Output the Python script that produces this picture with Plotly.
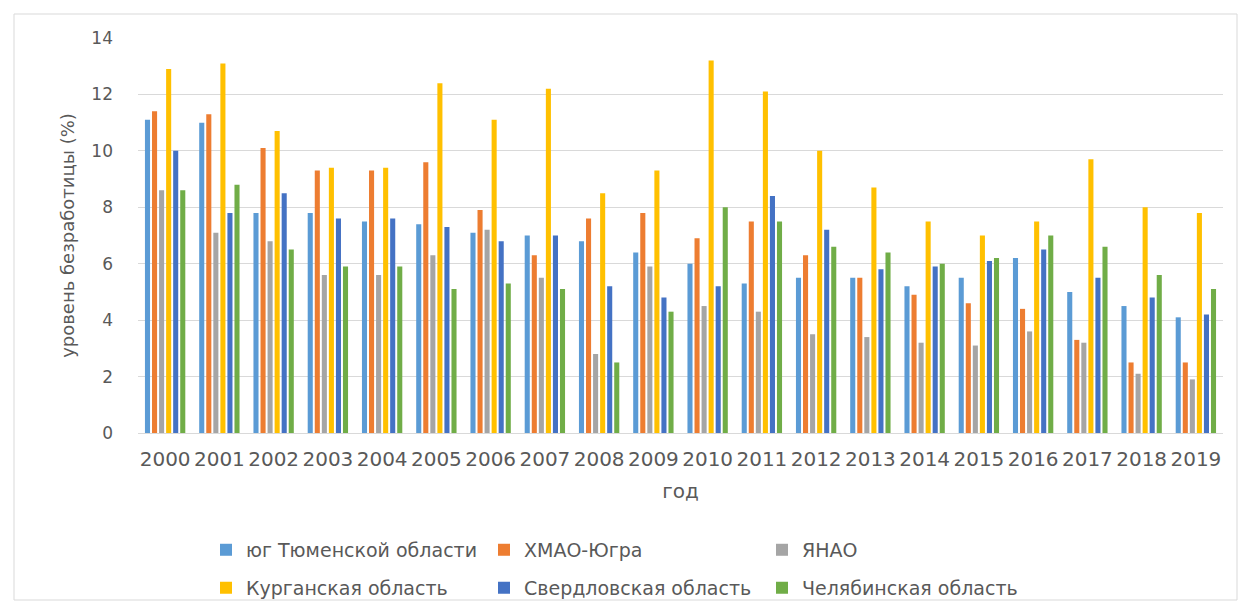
import plotly.graph_objects as go

years = [str(y) for y in range(2000, 2020)]
series_names = ["юг Тюменской области", "ХМАО-Югра", "ЯНАО",
                "Курганская область", "Свердловская область", "Челябинская область"]

yug_tyumen = [11.1, 11.0, 7.8, 7.8, 7.5, 7.4, 7.1, 7.0, 6.8, 6.4, 6.0, 5.3, 5.5, 5.5, 5.2, 5.5, 6.2, 5.0, 4.5, 4.1]
hmao = [11.4, 11.3, 10.1, 9.3, 9.3, 9.6, 7.9, 6.3, 7.6, 7.8, 6.9, 7.5, 6.3, 5.5, 4.9, 4.6, 4.4, 3.3, 2.5, 2.5]
yanao = [8.6, 7.1, 6.8, 5.6, 5.6, 6.3, 7.2, 5.5, 2.8, 5.9, 4.5, 4.3, 3.5, 3.4, 3.2, 3.1, 3.6, 3.2, 2.1, 1.9]
kurgan = [12.9, 13.1, 10.7, 9.4, 9.4, 12.4, 11.1, 12.2, 8.5, 9.3, 13.2, 12.1, 10.0, 8.7, 7.5, 7.0, 7.5, 9.7, 8.0, 7.8]
sverdl = [10.0, 7.8, 8.5, 7.6, 7.6, 7.3, 6.8, 7.0, 5.2, 4.8, 5.2, 8.4, 7.2, 5.8, 5.9, 6.1, 6.5, 5.5, 4.8, 4.2]
chelyab = [8.6, 8.8, 6.5, 5.9, 5.9, 5.1, 5.3, 5.1, 2.5, 4.3, 8.0, 7.5, 6.6, 6.4, 6.0, 6.2, 7.0, 6.6, 5.6, 5.1]

all_values = [yug_tyumen, hmao, yanao, kurgan, sverdl, chelyab]
colors = ["#5B9BD5", "#ED7D31", "#A5A5A5", "#FFC000", "#4472C4", "#70AD47"]
legends = ["legend", "legend", "legend", "legend2", "legend2", "legend2"]

W, H = 1244, 605
ml, mr, mt, mb = 138, 21, 38, 172

fig = go.Figure()
for name, vals, col, lg in zip(series_names, all_values, colors, legends):
    fig.add_trace(go.Bar(x=years, y=vals, name=name, marker_color=col,
                         marker_line_width=0, legend=lg))

font_family = "'DejaVu Sans', sans-serif"
leg_common = dict(orientation="h", xanchor="left", yanchor="middle",
                  font=dict(size=19, color="#595959", family=font_family),
                  entrywidth=233, entrywidthmode="pixels", itemwidth=30,
                  bgcolor="rgba(0,0,0,0)", traceorder="normal")

leg_x = (206 - ml) / (W - ml - mr)

fig.update_layout(
    width=W, height=H,
    margin=dict(l=ml, r=mr, t=mt, b=mb, autoexpand=False),
    paper_bgcolor="white", plot_bgcolor="white",
    barmode="group", bargap=0.22, bargroupgap=0.28,
    font=dict(family=font_family, color="#595959"),
    xaxis=dict(tickfont=dict(size=20, color="#595959"), automargin=False,
               title=dict(text="год", font=dict(size=20, color="#595959"), standoff=13),
               showgrid=False, showline=True, linecolor="#D9D9D9", linewidth=1,
               ticks="", ticklabelstandoff=8),
    yaxis=dict(range=[0, 14], dtick=2, tickfont=dict(size=17, color="#595959"),
               gridcolor="#D9D9D9", gridwidth=1, zeroline=False, showline=False,
               ticks="", ticklabelstandoff=24, automargin=False,
               title=dict(text="уровень безработицы (%)",
                          font=dict(size=18, color="#595959"), standoff=12)),
    legend=dict(x=leg_x, y=-0.296, **leg_common),
    legend2=dict(x=leg_x, y=-0.392, **leg_common),
    shapes=[dict(type="rect", xref="paper", yref="paper",
                 x0=(14 - ml) / (W - ml - mr), x1=(1237 - ml) / (W - ml - mr),
                 y0=(H - mb - 600) / (H - mt - mb), y1=(H - mb - 14) / (H - mt - mb),
                 line=dict(color="#D9D9D9", width=1), layer="below")],
)

fig.write_html("out.html", config={"displayModeBar": False},
               post_script="document.body.style.margin='0';")
